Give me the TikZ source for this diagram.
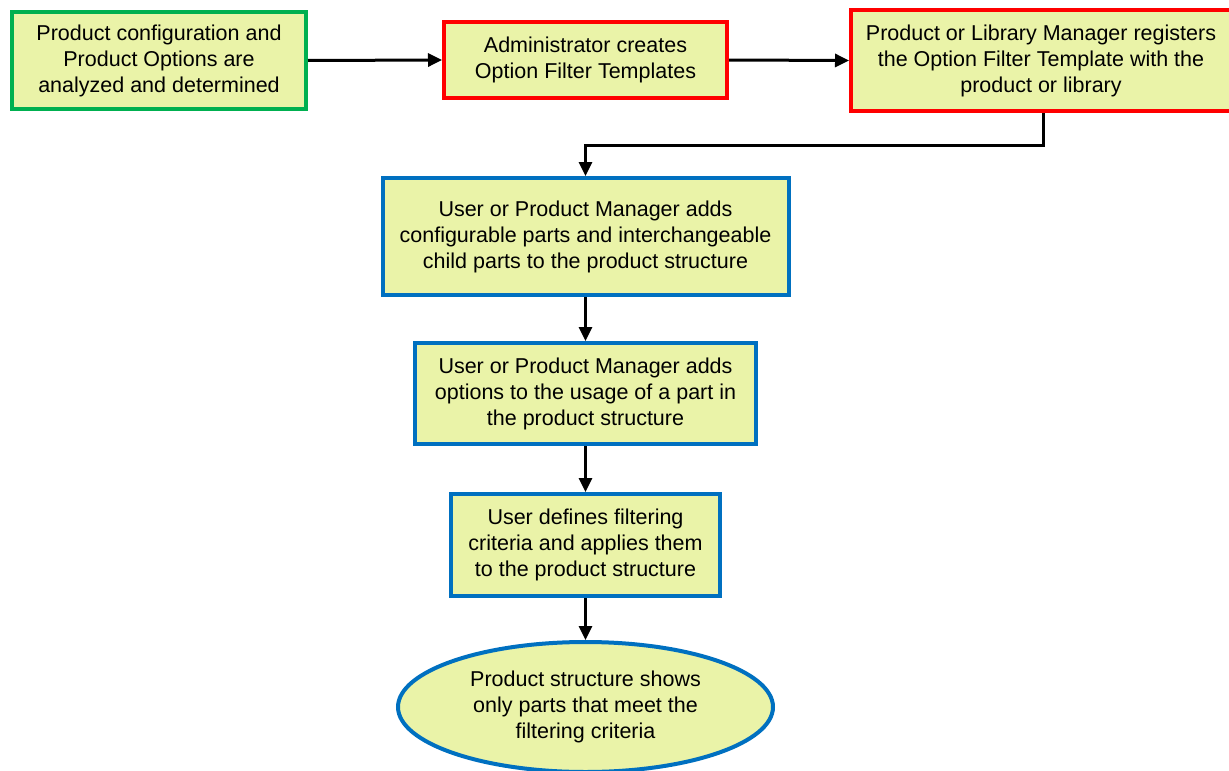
\documentclass[tikz,border=0pt]{standalone}
\usepackage{fontspec}
\setmainfont{Liberation Sans}
\usetikzlibrary{arrows.meta,shapes.geometric}
\definecolor{boxfill}{RGB}{234,243,168}
\definecolor{bgreen}{RGB}{0,176,80}
\definecolor{bred}{RGB}{255,0,0}
\definecolor{bblue}{RGB}{0,112,192}
\tikzset{
  box/.style={draw, line width=4pt, fill=boxfill, inner sep=0pt, align=center,
    font=\fontsize{21.5}{26}\selectfont},
  gbox/.style={box, draw=bgreen},
  rbox/.style={box, draw=bred},
  bbox/.style={box, draw=bblue},
  flow/.style={line width=3pt, -{Triangle[length=14pt,width=13pt]}}
}
\begin{document}
\begin{tikzpicture}[x=1pt,y=-1pt]
\useasboundingbox (0,0) rectangle (1229,771);
\begin{scope}
\clip (0,0) rectangle (1229,771);
\node[gbox, minimum width=294pt, minimum height=97pt] (a) at (159,60.5)
  {Product configuration and\\Product Options are\\analyzed and determined};
\node[rbox, minimum width=283pt, minimum height=76pt] (b) at (585.5,60)
  {Administrator creates\\Option Filter Templates};
\node[rbox, minimum width=380pt, minimum height=101pt] (c) at (1041,60.5)
  {Product or Library Manager registers\\the Option Filter Template with the\\product or library};
\node[bbox, minimum width=406pt, minimum height=117pt] (d) at (585.5,236.5)
  {User or Product Manager adds\\configurable parts and interchangeable\\child parts to the product structure};
\node[bbox, minimum width=341pt, minimum height=101pt] (e) at (585.5,393.5)
  {User or Product Manager adds\\options to the usage of a part in\\the product structure};
\node[bbox, minimum width=269pt, minimum height=102pt] (f) at (585.5,545)
  {User defines filtering\\criteria and applies them\\to the product structure};
\node[bbox, ellipse, minimum width=375pt, minimum height=130pt] (g) at (585.5,707)
  {Product structure shows\\only parts that meet the\\filtering criteria};
\coordinate (c1) at (1043,145);
\coordinate (c2) at (585.5,145);
\draw[flow] (a.east) -- (b.west);
\draw[flow] (b.east) -- (c.west);
\draw[flow] (c.south -| c1) -- (c1) -- (c2) -- (c2 |- d.north);
\draw[flow] (d.south) -- (e.north);
\draw[flow] (e.south) -- (f.north);
\draw[flow] (f.south) -- (g.north);
\end{scope}
\end{tikzpicture}
\end{document}
